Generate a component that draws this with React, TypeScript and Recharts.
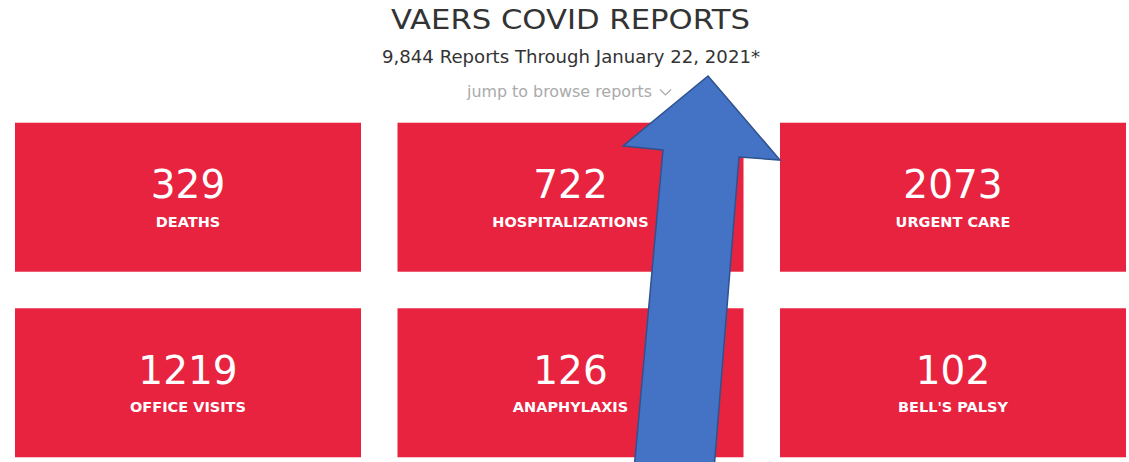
import React from "react";
import { ScatterChart, Scatter, XAxis, YAxis, Customized } from "recharts";

const titleText = "VAERS COVID REPORTS";
const subtitleText = "9,844 Reports Through January 22, 2021*";
const linkText = "jump to browse reports";

const categories = ["DEATHS", "HOSPITALIZATIONS", "URGENT CARE", "OFFICE VISITS", "ANAPHYLAXIS", "BELL'S PALSY"];
const reportCounts = [329, 722, 2073, 1219, 126, 102];
const tileColumns = [0, 1, 2, 0, 1, 2];
const tileRows = [0, 0, 0, 1, 1, 1];

const data = categories.map((name, i) => ({
  name,
  value: reportCounts[i],
  col: tileColumns[i],
  row: tileRows[i],
}));

const RED = "#E8233F";
const FONT = "'DejaVu Sans', sans-serif";

const Tile = (props: any) => {
  const { cx, cy, payload } = props;
  if (cx == null || cy == null) return null;
  const w = 346;
  const h = 149;
  return (
    <g>
      <rect x={cx - w / 2} y={cy - h / 2} width={w} height={h} fill={RED} />
      <text x={cx} y={cy + 1} textAnchor="middle" fill="#fff" fontFamily={FONT} fontSize={39} fontWeight={400}>
        {payload.value}
      </text>
      <text x={cx} y={cy + 29.5} textAnchor="middle" fill="#fff" fontFamily={FONT} fontSize={14.5} fontWeight={700}>
        {payload.name}
      </text>
    </g>
  );
};

const Header = () => (
  <g>
    <text x={570.5} y={29} textAnchor="middle" fill="#333" fontFamily={FONT} fontSize={26} textLength={359} lengthAdjust="spacingAndGlyphs">
      {titleText}
    </text>
    <text x={571} y={63} textAnchor="middle" fill="#333" fontFamily={FONT} fontSize={17.5} textLength={378} lengthAdjust="spacingAndGlyphs">
      {subtitleText}
    </text>
    <text x={467} y={97} textAnchor="start" fill="#aaa" fontFamily={FONT} fontSize={15} textLength={185} lengthAdjust="spacingAndGlyphs">
      {linkText}
    </text>
    <polyline points="660,89.5 665.5,95 671,89.5" fill="none" stroke="#aaa" strokeWidth={1.2} />
  </g>
);

export default function App() {
  return (
    <div style={{ position: "absolute", left: 0, top: 0, width: 1129, height: 462, background: "#fff" }}>
      <ScatterChart width={1129} height={462} margin={{ top: 123, right: 3, bottom: 5, left: 15 }}>
        <XAxis type="number" dataKey="col" domain={[-0.4523, 2.4523]} hide />
        <YAxis type="number" dataKey="row" domain={[-0.4, 1.4]} reversed hide />
        <Customized component={Header} />
        <Scatter data={data} shape={Tile} isAnimationActive={false} />
      </ScatterChart>
      <svg
        width={1129}
        height={462}
        style={{ position: "absolute", left: 0, top: 0, pointerEvents: "none" }}
      >
        <polygon
          points="708,76 780,160 739,157 714,470 634,470 663,150 623,146"
          fill="#4472C4"
          stroke="#2F528F"
          strokeWidth={1.5}
          strokeLinejoin="miter"
        />
      </svg>
    </div>
  );
}
